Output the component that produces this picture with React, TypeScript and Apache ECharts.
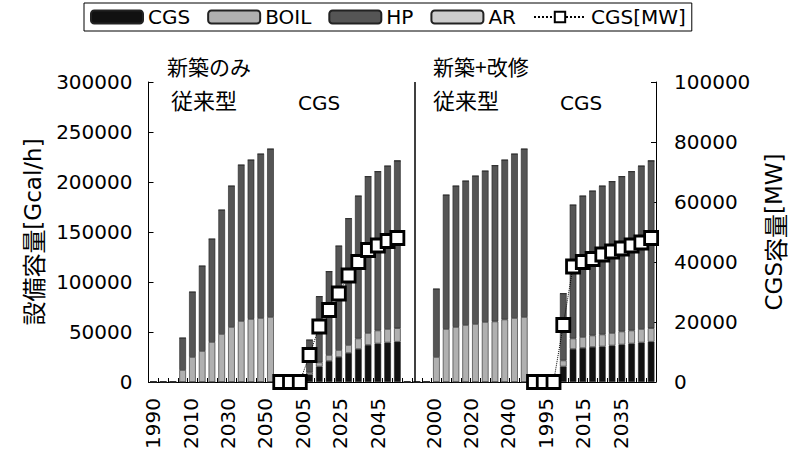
import React, { useEffect, useRef } from "react";
import * as echarts from "echarts";

// Categories: four panels, each 1990..2050 in 5-year steps
const YEARS = ["1990","1995","2000","2005","2010","2015","2020","2025","2030","2035","2040","2045","2050"];
const CATEGORIES = [...YEARS, ...YEARS, ...YEARS, ...YEARS];

// Tick labels as printed under the axis (label slots)
const TICK_LABELS = ["1990","","2010","","2030","","2050","","2005","","2025","","2045","","","2000","","2020","","2040","","1995","","2015","","2035"];
const DIVIDER_SLOT = 14;

// Panel 1: 従来型 (新築のみ), Panel 2: CGS (新築のみ), Panel 3: 従来型 (新築+改修), Panel 4: CGS (新築+改修)
const CGS_P1 = [0,0,0,0,0,0,0,0,0,0,0,0,0];
const CGS_P2 = [0,0,0,7500,15500,21000,25000,29000,33000,37000,38500,39500,40300];
const CGS_P3 = [0,0,0,0,0,0,0,0,0,0,0,0,0];
const CGS_P4 = [0,0,0,15500,33000,34000,35000,35500,36500,37500,38500,39500,40300];

const BOIL_P1 = [0,0,0,12000,25000,31000,40000,48000,55000,61000,63000,64000,65000];
const BOIL_P2 = [0,0,0,2000,4000,6000,7000,8000,10500,12000,13000,13500,13500];
const BOIL_P3 = [0,0,0,25000,53000,55000,57000,58000,60000,60500,62500,64000,65000];
const BOIL_P4 = [0,0,0,6000,10500,11000,11500,12000,12500,13000,13000,13500,13500];

const HP_P1 = [0,0,0,32000,65000,85000,103000,124000,141000,156000,159000,164000,168000];
const HP_P2 = [0,0,0,32500,66000,83500,104000,126500,142500,156500,159000,163000,167500];
const HP_P3 = [0,0,0,68000,134000,141000,144000,148000,151000,156000,159500,164000,168000];
const HP_P4 = [0,0,0,67000,133500,141000,144500,148500,151500,155000,159000,163000,167500];

const AR_P1 = [0,0,0,0,0,0,0,0,0,0,0,0,0];
const AR_P2 = [0,0,0,0,0,0,0,0,0,0,0,0,0];
const AR_P3 = [0,0,0,0,0,0,0,0,0,0,0,0,0];
const AR_P4 = [0,0,0,0,0,0,0,0,0,0,0,0,0];

const NONE13 = [null,null,null,null,null,null,null,null,null,null,null,null,null];
const MW_P2 = [0,0,0,9000,18500,24000,29500,35500,40000,44000,45500,47000,48000];
const MW_P4 = [0,0,0,19000,38500,40000,41000,42500,43500,44500,45500,46500,48000];

const CGS = [...CGS_P1, ...CGS_P2, ...CGS_P3, ...CGS_P4];
const BOIL = [...BOIL_P1, ...BOIL_P2, ...BOIL_P3, ...BOIL_P4];
const HP = [...HP_P1, ...HP_P2, ...HP_P3, ...HP_P4];
const AR = [...AR_P1, ...AR_P2, ...AR_P3, ...AR_P4];
const CGS_MW = [...NONE13, ...MW_P2, ...NONE13, ...MW_P4];

const LATIN = "DejaVu Sans";
const CJK = "Noto Sans CJK JP";

export default function App() {
  const ref = useRef<HTMLDivElement>(null);
  useEffect(() => {
    if (!ref.current) return;
    const chart = echarts.init(ref.current, undefined, { renderer: "svg" });
    const barBorder = { borderColor: "#222", borderWidth: 0.6 };
    const tickFont = { fontFamily: LATIN, fontSize: 20, color: "#000" };
    const plain = (v: number) => String(v);
    const nameRich = {
      c: { fontFamily: CJK, fontSize: 24, color: "#000" },
      l: { fontFamily: LATIN, fontSize: 23, color: "#000" },
    };
    chart.setOption({
      animation: false,
      backgroundColor: "#fff",
      legend: {
        left: 84,
        top: 3,
        padding: [4, 6],
        itemGap: 17,
        itemWidth: 52,
        itemHeight: 13,
        borderColor: "#000",
        borderWidth: 1,
        textStyle: { fontFamily: LATIN, fontSize: 20, color: "#000" },
        data: ["CGS", "BOIL", "HP", "AR", "CGS[MW]"],
      },
      grid: [
        { left: 148.5, right: 133.5, top: 82, bottom: 79 },
        { left: 143.95, right: 164.1, top: 82, bottom: 79 },
      ],
      xAxis: [
        {
          type: "category",
          gridIndex: 0,
          data: CATEGORIES,
          axisLine: { lineStyle: { color: "#000", width: 1 } },
          axisTick: { show: true, inside: true, length: 4, interval: 0, lineStyle: { color: "#000" } },
          axisLabel: { show: false },
        },
        {
          type: "category",
          gridIndex: 1,
          data: TICK_LABELS,
          axisLine: { show: false },
          axisTick: { show: false },
          axisLabel: { interval: 0, rotate: 90, margin: 16, ...tickFont },
        },
      ],
      yAxis: [
        {
          type: "value",
          gridIndex: 0,
          min: 0,
          max: 300000,
          interval: 50000,
          name: "{c|設備容量}{l|[Gcal/h]}",
          nameLocation: "middle",
          nameGap: 104,
          nameTextStyle: { rich: nameRich },
          axisLine: { show: true, lineStyle: { color: "#000" } },
          axisTick: { show: true, inside: true, length: 5, lineStyle: { color: "#000" } },
          splitLine: { show: false },
          axisLabel: { margin: 16, formatter: plain, ...tickFont },
        },
        {
          type: "value",
          gridIndex: 0,
          position: "right",
          min: 0,
          max: 100000,
          interval: 20000,
          name: "{l|CGS}{c|容量}{l|[MW]}",
          nameLocation: "middle",
          nameGap: 106,
          nameTextStyle: { rich: nameRich },
          axisLine: { show: true, lineStyle: { color: "#000" } },
          axisTick: { show: true, inside: true, length: 5, lineStyle: { color: "#000" } },
          splitLine: { show: false },
          axisLabel: { margin: 18, formatter: plain, ...tickFont },
        },
        { type: "value", gridIndex: 1, min: 0, max: 1, show: false },
      ],
      series: [
        { name: "CGS", type: "bar", stack: "cap", barWidth: "68%", data: CGS, itemStyle: { color: "#111", ...barBorder } },
        { name: "BOIL", type: "bar", stack: "cap", barWidth: "68%", data: BOIL, itemStyle: { color: "#b0b0b0", ...barBorder } },
        { name: "HP", type: "bar", stack: "cap", barWidth: "68%", data: HP, itemStyle: { color: "#555", ...barBorder } },
        { name: "AR", type: "bar", stack: "cap", barWidth: "68%", data: AR, itemStyle: { color: "#cdcdcd", ...barBorder } },
        {
          name: "CGS[MW]",
          type: "line",
          yAxisIndex: 1,
          data: CGS_MW,
          connectNulls: false,
          showSymbol: true,
          showAllSymbol: true,
          symbol: "rect",
          symbolSize: 13,
          itemStyle: { color: "#fff", borderColor: "#000", borderWidth: 2.8 },
          lineStyle: { color: "#000", width: 1, type: "dotted" },
          z: 5,
        },
        {
          type: "line",
          xAxisIndex: 1,
          yAxisIndex: 2,
          data: [],
          silent: true,
          markLine: {
            silent: true,
            symbol: "none",
            label: { show: false },
            lineStyle: { color: "#000", width: 1.5, type: "solid" },
            data: [{ xAxis: DIVIDER_SLOT }],
          },
        },
      ],
      graphic: [
        { type: "text", left: 167, top: 55, style: { text: "新築のみ", fontFamily: CJK, fontSize: 21, fill: "#000" } },
        { type: "text", left: 171, top: 88, style: { text: "従来型", fontFamily: CJK, fontSize: 22, fill: "#000" } },
        { type: "text", left: 298, top: 93, style: { text: "CGS", fontFamily: LATIN, fontSize: 20, fill: "#000" } },
        { type: "text", left: 433, top: 55, style: { text: "新築+改修", fontFamily: CJK, fontSize: 21, fill: "#000" } },
        { type: "text", left: 433, top: 88, style: { text: "従来型", fontFamily: CJK, fontSize: 22, fill: "#000" } },
        { type: "text", left: 560, top: 93, style: { text: "CGS", fontFamily: LATIN, fontSize: 20, fill: "#000" } },
      ],
    });
    return () => chart.dispose();
  }, []);
  return <div ref={ref} style={{ position: "fixed", left: 0, top: 0, width: 794, height: 461 }} />;
}
